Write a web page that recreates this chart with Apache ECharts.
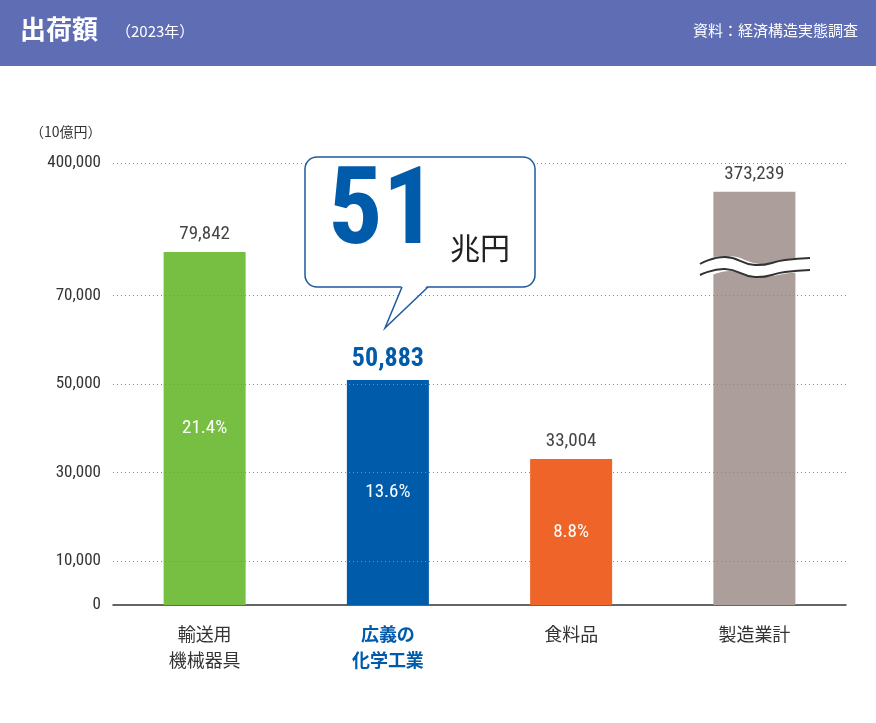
<!DOCTYPE html>
<html><head><meta charset="utf-8">
<script src="https://cdn.jsdelivr.net/npm/echarts@6/dist/echarts.min.js"></script>
<style>body{margin:0}#main{width:876px;height:723px}</style>
</head><body><div id="main"></div>
<script>
var categories = ["輸送用\n機械器具", "広義の\n化学工業", "食料品", "製造業計"];
var values = [79842, 50883, 33004, 373239];
var shares = ["21.4%", "13.6%", "8.8%", ""];
var colors = ["#76bf43", "#005bab", "#ef6428", "#ab9e9b"];
// the axis is broken above 80,000: the top tick stands for 400,000
var tickValues = [0, 10000, 30000, 50000, 70000, 100000];
var tickLabels = ["0", "10,000", "30,000", "50,000", "70,000", "400,000"];
var brokenTop = 93500;

var font = "'Roboto Condensed', Roboto, 'Noto Sans CJK JP', sans-serif";
var jp = "'Noto Sans CJK JP', sans-serif";
var myChart = echarts.init(document.getElementById("main"));

myChart.setOption({
  backgroundColor: "#fff",
  textStyle: { fontFamily: font },
  grid: { left: 113, right: 30, top: 163, bottom: 118 },
  xAxis: {
    type: "category",
    data: categories,
    axisTick: { show: false },
    axisLine: { lineStyle: { color: "#333", width: 1.5 } },
    axisLabel: {
      margin: 16, fontSize: 18, lineHeight: 26, color: "#333", fontFamily: jp,
      formatter: function (v, i) { return i === 1 ? "{b|" + v.replace("\n", "}\n{b|") + "}" : v; },
      rich: { b: { color: "#005bab", fontWeight: "bold", fontSize: 18, lineHeight: 26, fontFamily: jp } }
    }
  },
  yAxis: {
    type: "value", min: 0, max: 100000, interval: 10000,
    splitLine: { show: false },
    axisLine: { show: false }, axisTick: { show: false },
    axisLabel: {
      fontSize: 17, color: "#333", margin: 12,
      formatter: function (v) { var i = tickValues.indexOf(v); return i >= 0 ? tickLabels[i] : ""; }
    }
  },
  series: [{
    type: "bar",
    barWidth: 82,
    data: values.map(function (v, i) {
      return {
        value: Math.min(v, brokenTop),
        itemStyle: { color: colors[i] },
        label: {
          show: true, position: "top", distance: 8,
          formatter: v.toLocaleString("en-US"),
          fontSize: i === 1 ? 26 : 19,
          fontWeight: i === 1 ? "bold" : "normal",
          color: i === 1 ? "#005bab" : "#444"
        }
      };
    }),
    markLine: {
      silent: true, symbol: "none", label: { show: false },
      lineStyle: { type: [1, 3], color: "#888", width: 1 },
      data: tickValues.slice(1).map(function (v) { return { yAxis: v }; })
    }
  }, {
    type: "bar",
    barWidth: 82, barGap: "-100%",
    itemStyle: { color: "transparent" },
    data: values.map(function (v, i) {
      return {
        value: Math.min(v, brokenTop),
        label: { show: shares[i] !== "", position: "inside", formatter: shares[i], color: "#fff", fontSize: 19 }
      };
    }),
    z: 3
  }],
  graphic: [
    { type: "rect", shape: { x: 0, y: 0, width: 876, height: 66 }, style: { fill: "#5f6db4" } },
    { type: "text", x: 20, y: 16, style: { text: "出荷額", fill: "#fff", fontSize: 26, fontWeight: "bold", fontFamily: jp } },
    { type: "text", x: 116, y: 24, style: { text: "（2023年）", fill: "#fff", fontSize: 15, fontFamily: jp } },
    { type: "text", x: 858, y: 23, style: { text: "資料：経済構造実態調査", fill: "#fff", fontSize: 15, fontFamily: jp, align: "right" } },
    { type: "text", x: 30, y: 125, style: { text: "（10億円）", fill: "#333", fontSize: 14, fontFamily: jp } },
    // callout bubble
    { type: "rect", z: 50, shape: { x: 305, y: 157, width: 230, height: 130, r: 12 }, style: { fill: "#fff", stroke: "#1d5a9e", lineWidth: 1.5 } },
    { type: "polygon", z: 51, shape: { points: [[402, 285], [428, 285], [385, 328]] }, style: { fill: "#fff" } },
    { type: "polyline", z: 52, shape: { points: [[402, 287], [385, 328], [428, 287]] }, style: { fill: null, stroke: "#1d5a9e", lineWidth: 1.5 } },
    { type: "text", z: 53, x: 328, y: 162, style: { text: "51", fill: "#005bab", fontSize: 108, fontWeight: "bold", fontFamily: font } },
    { type: "text", z: 53, x: 450, y: 233, style: { text: "兆円", fill: "#222", fontSize: 30, fontFamily: jp } },
    // axis break on the last bar
    { type: "polygon", z: 100, shape: { smooth: 0.4, points: [[700, 262], [730, 256], [760, 264], [790, 259], [810, 257], [810, 271], [790, 273], [760, 277], [730, 271], [700, 276]] }, style: { fill: "#fff" } },
    { type: "polyline", z: 101, shape: { smooth: 0.5, points: [[700, 264], [725, 257], [755, 265], [785, 260], [810, 258]] }, style: { fill: null, stroke: "#333", lineWidth: 2 } },
    { type: "polyline", z: 101, shape: { smooth: 0.5, points: [[700, 275], [725, 269], [755, 277], [785, 272], [810, 270]] }, style: { fill: null, stroke: "#333", lineWidth: 2 } }
  ]
});
</script>
</body></html>
